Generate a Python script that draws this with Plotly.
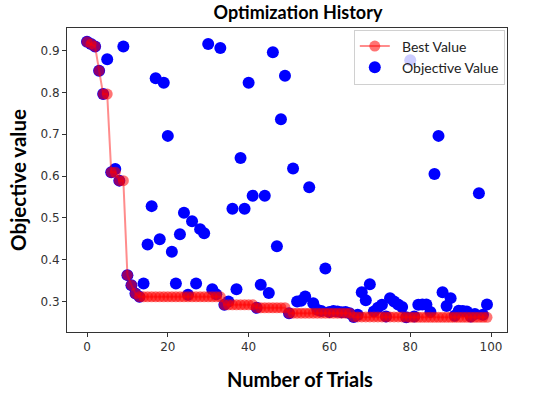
import numpy as np
import plotly.graph_objects as go

trials = list(range(100))
objective = [
    0.921, 0.916, 0.910, 0.852, 0.796, 0.879, 0.609, 0.617, 0.589, 0.910,
    0.363, 0.339, 0.319, 0.311, 0.343, 0.436, 0.528, 0.834, 0.449, 0.823,
    0.696, 0.419, 0.343, 0.461, 0.512, 0.316, 0.492, 0.343, 0.473, 0.463,
    0.916, 0.329, 0.317, 0.906, 0.292, 0.300, 0.522, 0.329, 0.643, 0.522,
    0.823, 0.553, 0.285, 0.340, 0.553, 0.320, 0.896, 0.432, 0.736, 0.840,
    0.272, 0.618, 0.300, 0.302, 0.312, 0.573, 0.296, 0.280, 0.277, 0.379,
    0.275, 0.277, 0.276, 0.274, 0.275, 0.272, 0.263, 0.268, 0.322, 0.303,
    0.341, 0.276, 0.285, 0.292, 0.264, 0.308, 0.300, 0.293, 0.287, 0.262,
    0.877, 0.264, 0.292, 0.293, 0.293, 0.275, 0.605, 0.696, 0.322, 0.289,
    0.308, 0.266, 0.278, 0.277, 0.276, 0.264, 0.270, 0.559, 0.268, 0.293,
]
best = list(np.minimum.accumulate(objective))

x_ticks = [0, 20, 40, 60, 80, 100]
y_ticks = [0.3, 0.4, 0.5, 0.6, 0.7, 0.8, 0.9]

fig = go.Figure()
fig.add_trace(go.Scatter(
    x=trials, y=objective, mode="markers", name="  Objective Value",
    marker=dict(color="#0000ff", size=12, line=dict(width=0)),
))
fig.add_trace(go.Scatter(
    x=trials, y=best, mode="lines+markers", name="  Best Value",
    line=dict(color="rgba(255,0,0,0.45)", width=2),
    marker=dict(color="rgba(255,0,0,0.55)", size=11, line=dict(width=0)),
))

axis_common = dict(
    showline=True, mirror=True, linecolor="#333333", linewidth=1,
    ticks="outside", ticklen=4, tickcolor="#333333", showgrid=False,
    zeroline=False, automargin=False,
    tickfont=dict(family="DejaVu Sans", size=12, color="#333333"),
)
fig.update_xaxes(range=[-4.95, 103.95], tickvals=x_ticks, **axis_common)
fig.update_yaxes(range=[0.227, 0.954], tickvals=y_ticks,
                 title=dict(text="<b>Objective value</b>", font=dict(family="Lato", size=20.5, color="black"), standoff=8),
                 **axis_common)

fig.add_annotation(text="<b>Number of Trials</b>", xref="paper", yref="paper",
                   x=0.53, y=-0.155, xanchor="center", yanchor="middle", showarrow=False,
                   font=dict(family="Lato", size=20, color="black"))

fig.update_layout(
    width=550, height=399,
    margin=dict(l=67, r=43, t=28, b=67),
    paper_bgcolor="white", plot_bgcolor="white",
    title=dict(text="<b>Optimization History</b>", xref="paper", x=0.525, xanchor="center",
               yref="container", y=0.985, yanchor="top",
               font=dict(family="Lato", size=18, color="black")),
    legend=dict(x=0.995, y=0.995, xanchor="right", yanchor="top", traceorder="reversed",
                bgcolor="rgba(255,255,255,0.8)", bordercolor="#d0d0d0", borderwidth=1,
                font=dict(family="Lato", size=14, color="#222222"), itemwidth=30,
                tracegroupgap=0),
    showlegend=True,
)

fig.write_html("out.html", config={"displayModeBar": False},
               post_script="document.body.style.margin='0px';")
